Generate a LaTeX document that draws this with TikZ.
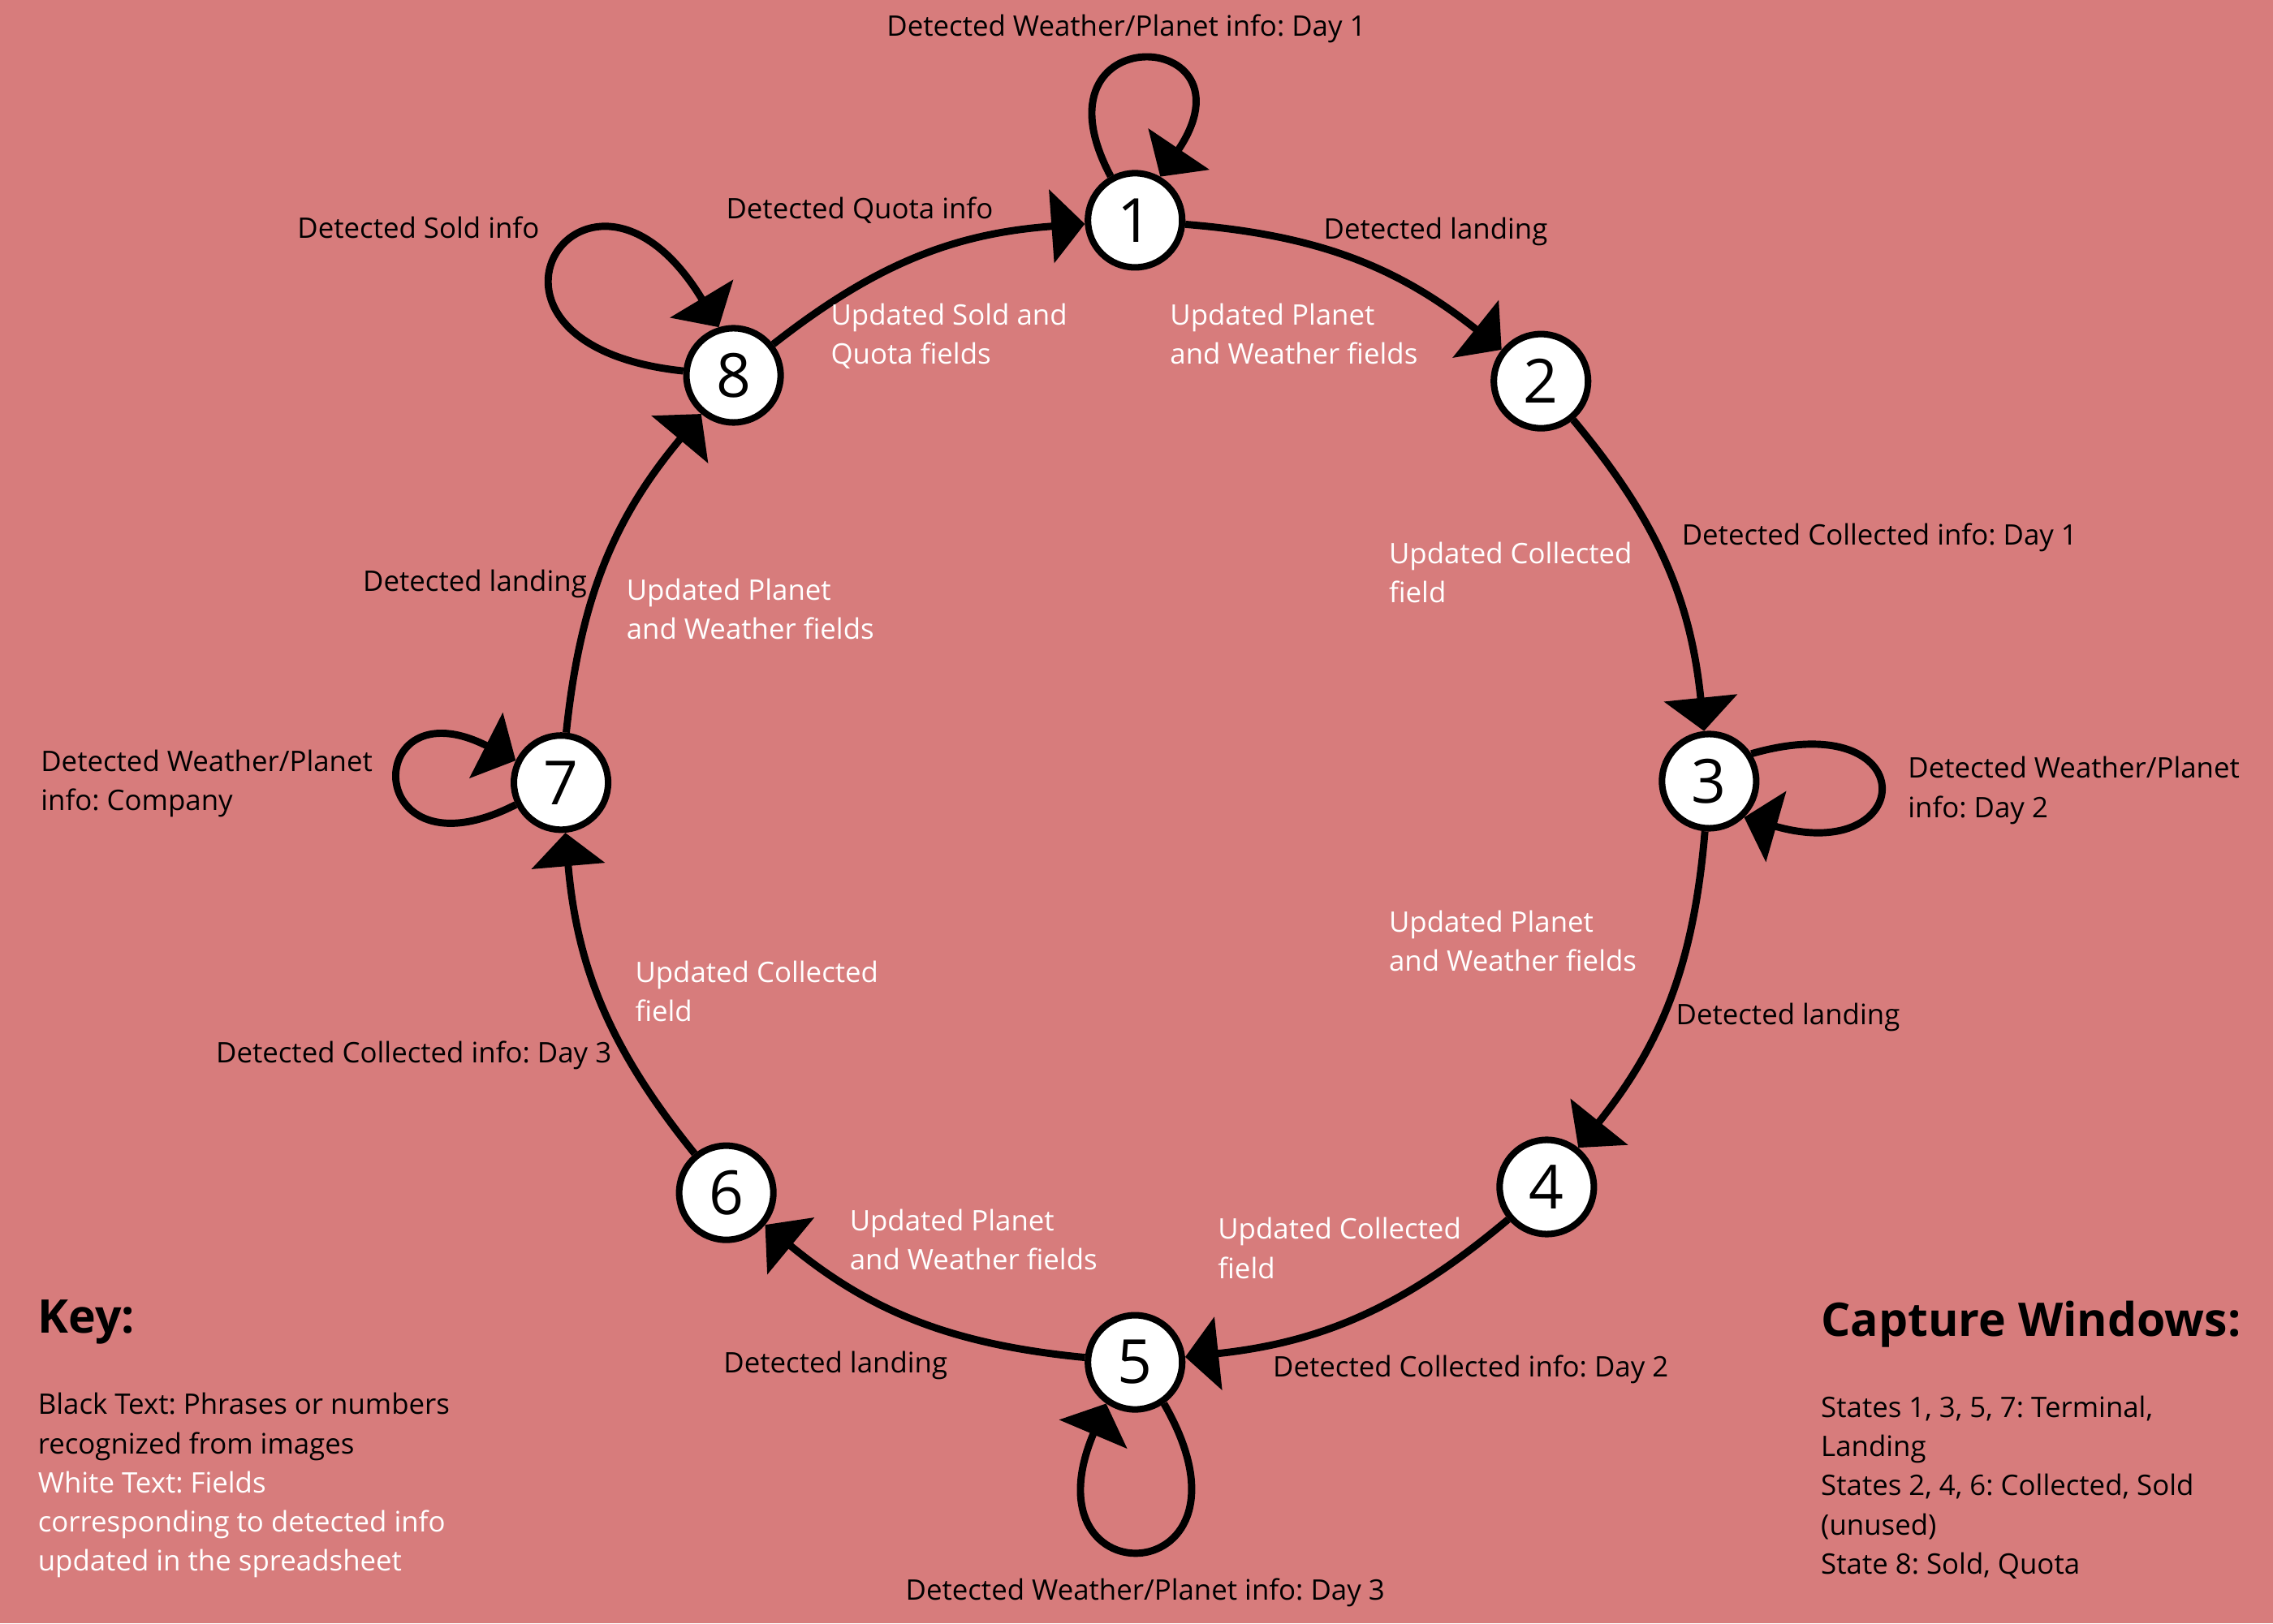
\documentclass[tikz,border=0pt]{standalone}
\usepackage{fontspec}
\setmainfont{Open Sans}
\usepackage{tikz}
\usetikzlibrary{arrows.meta}
\definecolor{salmonbg}{RGB}{215,124,124}
\newcommand{\lblfont}{\fontsize{19.5}{27}\selectfont}
\frenchspacing
\tikzset{
  statenode/.style={circle, draw, line width=4.5pt, fill=white, minimum size=65pt, inner sep=0pt, font=\fontsize{42}{42}\selectfont},
  trans/.style={line width=5pt, -{Triangle[length=23pt,width=50pt]}},
  detected/.style={font=\lblfont, inner sep=0pt, align=left},
  field/.style={detected, text=white},
  keytitle/.style={font=\fontsize{32}{32}\selectfont\bfseries, inner sep=0pt, anchor=base west},
}

\begin{document}
\begin{tikzpicture}[x=1pt,y=1pt]
  \fill[salmonbg] (0,0) rectangle (1568,1120);
  \useasboundingbox (0,0) rectangle (1568,1120);

  % states
  \node[statenode] (s1) at (783,968) {1};
  \node[statenode] (s2) at (1063,857) {2};
  \node[statenode] (s3) at (1179,581) {3};
  \node[statenode] (s4) at (1067,301) {4};
  \node[statenode] (s5) at (783,180) {5};
  \node[statenode] (s6) at (501,297) {6};
  \node[statenode] (s7) at (387,580) {7};
  \node[statenode] (s8) at (506,861) {8};

  % transitions round the cycle
  \draw[trans] (s1) to[bend left=17] (s2);
  \draw[trans] (s2) to[bend left=17] (s3);
  \draw[trans] (s3) to[bend left=17] (s4);
  \draw[trans] (s4) to[bend left=17] (s5);
  \draw[trans] (s5) to[bend left=17] (s6);
  \draw[trans] (s6) to[bend left=17] (s7);
  \draw[trans] (s7) to[bend left=17] (s8);
  \draw[trans] (s8) to[bend left=17] (s1);

  % self loops
  \draw[trans] (s1.119) .. controls +(118:125) and +(56:125) .. (s1.60);
  \draw[trans] (s3.33) .. controls +(16:125) and +(-16:125) .. (s3.-46);
  \draw[trans] (s5.-55) .. controls +(-60:150) and +(-113:150) .. (s5.-125);
  \draw[trans] (s7.206) .. controls +(207:120) and +(153:120) .. (s7.154);
  \draw[trans] (s8.175) .. controls +(174:175) and +(121:175) .. (s8.107);

  % detected info (black)
  \node[detected, anchor=north] (d1loop) at (777,1110) {Detected Weather/Planet info: Day 1};
  \node[detected, anchor=north] (d81) at (593,984) {Detected Quota info};
  \node[detected, anchor=north west] (d8loop) at (205,971) {Detected Sold info};
  \node[detected, anchor=north west] (d12) at (913,970) {Detected landing};
  \node[detected, anchor=north west] (d23) at (1160,759) {Detected Collected info: Day 1};
  \node[detected, anchor=north west] (d3loop) at (1316,598) {Detected Weather/Planet\\info: Day 2};
  \node[detected, anchor=north west] (d34) at (1156,428) {Detected landing};
  \node[detected, anchor=north west] (d45) at (878,185) {Detected Collected info: Day 2};
  \node[detected, anchor=north] (d5loop) at (790,31) {Detected Weather/Planet info: Day 3};
  \node[detected, anchor=north west] (d56) at (499,188) {Detected landing};
  \node[detected, anchor=north east] (d67) at (422,402) {Detected Collected info: Day 3};
  \node[detected, anchor=north west] (d7loop) at (28,603) {Detected Weather/Planet\\info: Company};
  \node[detected, anchor=north east] (d78) at (405,727) {Detected landing};

  % updated fields (white)
  \node[field, anchor=north west] (f81) at (573,911) {Updated Sold and\\Quota fields};
  \node[field, anchor=north west] (f12) at (807,911) {Updated Planet\\and Weather fields};
  \node[field, anchor=north west] (f23) at (958,746) {Updated Collected\\field};
  \node[field, anchor=north west] (f34) at (958,492) {Updated Planet\\and Weather fields};
  \node[field, anchor=north west] (f45) at (840,280) {Updated Collected\\field};
  \node[field, anchor=north west] (f56) at (586,286) {Updated Planet\\and Weather fields};
  \node[field, anchor=north west] (f67) at (438,457) {Updated Collected\\field};
  \node[field, anchor=north west] (f78) at (432,721) {Updated Planet\\and Weather fields};

  % key
  \node[keytitle] (keyhead) at (26,200) {Key:};
  \node[detected, anchor=north west] (keybody) at (26,159)
    {Black Text: Phrases or numbers\\recognized from images\\
     \textcolor{white}{White Text: Fields}\\
     \textcolor{white}{corresponding to detected info}\\
     \textcolor{white}{updated in the spreadsheet}};

  % capture windows
  \node[keytitle] (capthead) at (1256,198) {Capture Windows:};
  \node[detected, anchor=north west] (captbody) at (1256,157)
    {States 1, 3, 5, 7: Terminal,\\Landing\\States 2, 4, 6: Collected, Sold\\(unused)\\State 8: Sold, Quota};
\end{tikzpicture}
\end{document}
